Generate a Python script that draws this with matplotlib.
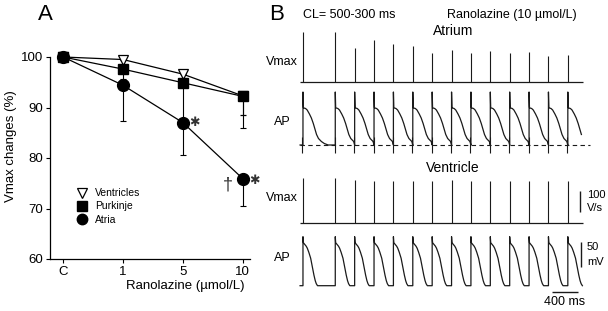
import matplotlib.pyplot as plt
from matplotlib.lines import Line2D

plt.rcParams['font.family'] = ['Liberation Sans', 'DejaVu Sans']

# ---- Panel A data ----
conc_labels = ['C', '1', '5', '10']
ventricles = [100, 99.5, 96.6, 92.3]
ventricles_err = [0, 1.0, 1.5, 3.8]
purkinje = [100, 97.6, 94.9, 92.2]
purkinje_err = [0, 2.0, 7.5, 6.2]
atria = [100, 94.4, 87.0, 75.9]
atria_err = [0, 7.0, 6.4, 5.5]

# ---- Panel B data (ms, V/s, mV) ----
beat_times = [0, 500, 800, 1100, 1400, 1700, 2000, 2300, 2600, 2900, 3200, 3500, 3800, 4100]
atrium_vmax = [238, 238, 162, 200, 181, 171, 138, 152, 138, 148, 138, 143, 124, 129]
ventricle_vmax = [214, 214, 205, 200, 200, 200, 200, 205, 200, 200, 200, 200, 200, 200]
# single action potential shapes (time after upstroke, mV above rest)
atrium_ap_t = [0, 0, 6, 15, 40, 65, 100, 130, 160, 190, 210, 240, 285, 330, 390]
atrium_ap_v = [0, 106, 75, 74, 73, 70, 62, 54, 43, 30, 21, 13, 7, 3, 0]
ventricle_ap_t = [0, 0, 6, 25, 50, 67, 90, 119, 145, 170, 190, 206, 225]
ventricle_ap_v = [0, 98, 86, 83, 79, 75, 67, 55, 38, 21, 10, 4, 0]
trace_start, trace_end = -45, 4340

W, H = 608, 311
fig = plt.figure(figsize=(W / 100, H / 100), dpi=100)


def fx(px):
    return px / W


def fy(py):
    return 1 - py / H


# ================= Panel A =================
ax = fig.add_axes([fx(50), fy(259), fx(250) - fx(50), (259 - 57) / H])
x = range(len(conc_labels))
zero = [0] * len(x)
ax.errorbar(x, ventricles, yerr=[ventricles_err, zero], color='black', lw=0.9,
             marker='v', ms=7.5, mfc='white', mec='black', mew=0.9,
             elinewidth=0.8, capsize=2.5, capthick=0.8, clip_on=False, zorder=3)
ax.errorbar(x, purkinje, yerr=[purkinje_err, zero], color='black', lw=0.9,
             marker='s', ms=7, mfc='black', mec='black',
             elinewidth=0.8, capsize=2.5, capthick=0.8, clip_on=False, zorder=4)
ax.errorbar(x, atria, yerr=[atria_err, zero], color='black', lw=0.9,
             marker='o', ms=8.5, mfc='black', mec='black',
             elinewidth=0.8, capsize=2.5, capthick=0.8, clip_on=False, zorder=5)

ax.set_xlim(-0.22, 3.12)
ax.set_ylim(60, 100)
ax.set_xticks(list(x))
ax.set_xticklabels(conc_labels)
ax.set_yticks([60, 70, 80, 90, 100])
ax.tick_params(direction='out', length=3, width=0.8, labelsize=9.5, pad=2)
for s in ['top', 'right']:
    ax.spines[s].set_visible(False)
for s in ['left', 'bottom']:
    ax.spines[s].set_linewidth(0.9)
ax.set_xlabel('Ranolazine (\u00b5mol/L)', fontsize=9.5)
ax.xaxis.set_label_coords(0.675, -0.105)
ax.set_ylabel('Vmax changes (%)', fontsize=9.5)
ax.yaxis.set_label_coords(-0.165, 0.56)

ax.text(2.2, 87.0, '\u2731', fontsize=9, ha='center', va='center', color='#333')
ax.text(3.2, 75.4, '\u2731', fontsize=9, ha='center', va='center', color='#333',
        clip_on=False)
ax.text(2.745, 74.6, '\u2020', fontsize=13, ha='center', va='center', color='#333')

handles = [
    Line2D([], [], ls='none', marker='v', ms=7, mfc='white', mec='black', mew=0.9),
    Line2D([], [], ls='none', marker='s', ms=6.5, mfc='black', mec='black'),
    Line2D([], [], ls='none', marker='o', ms=7.5, mfc='black', mec='black'),
]
ax.legend(handles, ['Ventricles', 'Purkinje', 'Atria'], loc='upper left',
          bbox_to_anchor=(0.135, 0.35), frameon=False, fontsize=7.5,
          handlelength=1.0, handletextpad=0.7, labelspacing=0.3, borderpad=0,
          borderaxespad=0)

# ================= Panel B =================
X0, X1 = 298, 600
T0, T1 = -77, 4598


def trace_axes(top_px, bot_px, base_px, px_per_unit):
    a = fig.add_axes([fx(X0), fy(bot_px), fx(X1) - fx(X0), (bot_px - top_px) / H])
    a.set_xlim(T0, T1)
    a.set_ylim(-(bot_px - base_px) / px_per_unit, (base_px - top_px) / px_per_unit)
    a.axis('off')
    return a


def build_ap(tt, vv):
    ts, vs = [trace_start], [0]
    for i, b in enumerate(beat_times):
        nxt = beat_times[i + 1] if i + 1 < len(beat_times) else trace_end
        for t, v in zip(tt, vv):
            if b + t < nxt:
                ts.append(b + t)
                vs.append(v)
    return ts, vs


lc = '#1a1a1a'

# Atrium Vmax
a1 = trace_axes(20, 90, 82, 0.21)
a1.hlines(0, trace_start, trace_end, color=lc, lw=0.9)
a1.vlines(beat_times, 0, atrium_vmax, color=lc, lw=0.8)

# Atrium AP
a2 = trace_axes(86, 158, 145, 0.5)
t_a, v_a = build_ap(atrium_ap_t, atrium_ap_v)
a2.plot(t_a, v_a, color=lc, lw=0.9)
a2.vlines([b - 8 for b in beat_times], -16, 16, color=lc, lw=0.8)
a2.hlines(0, trace_start, 4445, color=lc, lw=0.8, linestyles=(0, (4, 3)))

# Ventricle Vmax
a3 = trace_axes(172, 230, 223, 0.21)
a3.hlines(0, trace_start, trace_end, color=lc, lw=0.9)
a3.vlines(beat_times, 0, ventricle_vmax, color=lc, lw=0.8)
a3.vlines(4285, 53, 153, color=lc, lw=1.0)

# Ventricle AP
a4 = trace_axes(230, 300, 285.7, 0.5)
t_v, v_v = build_ap(ventricle_ap_t, ventricle_ap_v)
a4.plot(t_v, v_v, color=lc, lw=0.9)
a4.vlines(4300, 38, 88, color=lc, lw=1.0)
a4.hlines(-12, 3850, 4250, color=lc, lw=1.0)

# ---- texts ----
fig.text(fx(45), fy(14), 'A', fontsize=16, ha='center', va='center')
fig.text(fx(277), fy(14), 'B', fontsize=16, ha='center', va='center')
fig.text(fx(303), fy(15), 'CL= 500-300 ms', fontsize=9, ha='left', va='center')
fig.text(fx(447), fy(15), 'Ranolazine (10 \u00b5mol/L)', fontsize=9, ha='left', va='center')
fig.text(fx(453), fy(31), 'Atrium', fontsize=10, ha='center', va='center')
fig.text(fx(453), fy(168), 'Ventricle', fontsize=10, ha='center', va='center')
for label, py in [('Vmax', 62), ('AP', 122), ('Vmax', 198), ('AP', 258)]:
    fig.text(fx(282), fy(py), label, fontsize=9, ha='center', va='center')
fig.text(fx(587), fy(195), '100', fontsize=8, ha='left', va='center')
fig.text(fx(587), fy(208), 'V/s', fontsize=8, ha='left', va='center')
fig.text(fx(587), fy(247), '50', fontsize=8, ha='left', va='center')
fig.text(fx(587), fy(262), 'mV', fontsize=8, ha='left', va='center')
fig.text(fx(565), fy(302), '400 ms', fontsize=9, ha='center', va='center')

fig.savefig('out.png', dpi=100)
